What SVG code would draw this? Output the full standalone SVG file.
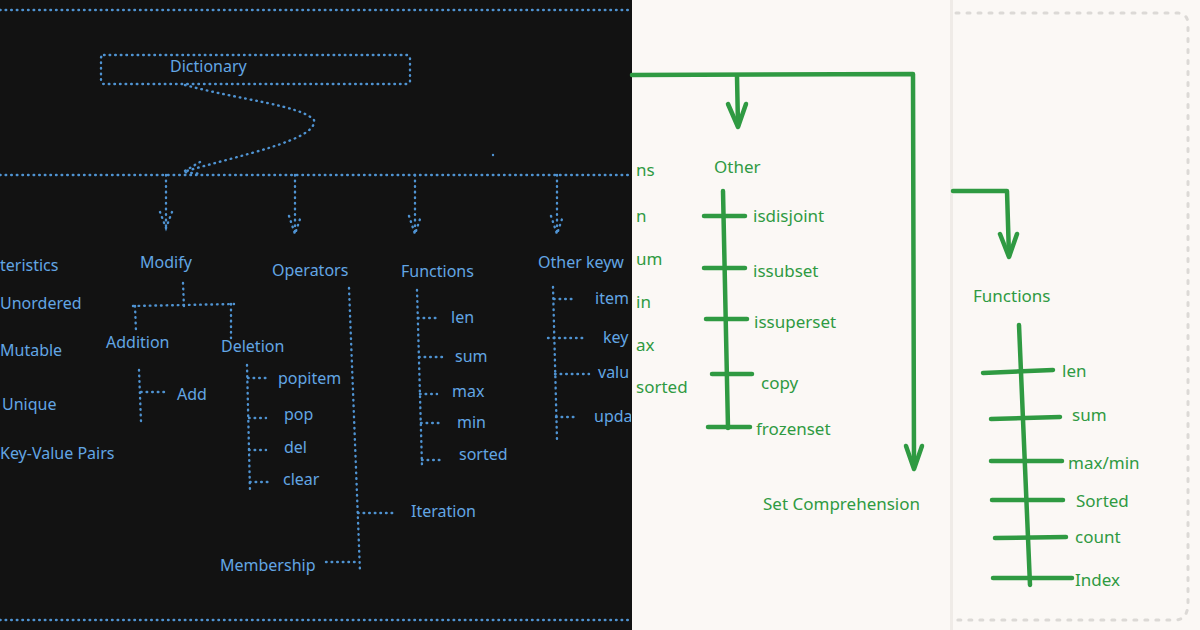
<svg xmlns="http://www.w3.org/2000/svg" width="1200" height="630" viewBox="0 0 1200 630">
<defs>
<style>
.dk{fill:#121212}
.lt{fill:#fbf8f5}
.dot{fill:none;stroke:#4f93d2;stroke-width:2.4;stroke-dasharray:0.6 5;stroke-linecap:round}
.bt{fill:#62a6e4;font-family:"Noto Sans","Liberation Sans",sans-serif;font-size:16px}
.gl{fill:none;stroke:#2f9a42;stroke-width:4.5;stroke-linecap:round;stroke-linejoin:round}
.gt{fill:#2f9a42;font-family:"Noto Sans","Liberation Sans",sans-serif;font-size:17px}
.gray{fill:none;stroke:#dcd9d6;stroke-width:3;stroke-dasharray:3 8;stroke-linecap:round}
</style>
<clipPath id="leftclip"><rect x="0" y="0" width="631" height="630"/></clipPath>
</defs>
<rect x="0" y="0" width="632" height="630" class="dk"/>
<rect x="632" y="0" width="318" height="630" class="lt"/>
<rect x="950" y="0" width="3" height="630" fill="#efebe7"/>
<rect x="953" y="0" width="247" height="630" class="lt"/>

<g id="connectors">
<g clip-path="url(#leftclip)">
<line x1="0" y1="10" x2="630" y2="10" class="dot"/>
<line x1="0" y1="175" x2="630" y2="175" class="dot"/>
<line x1="0" y1="620" x2="630" y2="620" class="dot"/>
<path d="M185 85 C 240 100, 300 105, 314 120 C 318 140, 240 155, 183 172" class="dot"/>
<path d="M200 162 L183 172 L202 174" class="dot"/>
<circle cx="493" cy="155" r="1.2" fill="#4f93d2"/>
<line x1="166" y1="175" x2="166" y2="228" class="dot"/>
<path d="M160 212 L166 228 L172 212" class="dot"/>
<line x1="295" y1="175" x2="295" y2="234" class="dot"/>
<path d="M289 216 L295 234 L301 216" class="dot"/>
<line x1="415" y1="175" x2="415" y2="234" class="dot"/>
<path d="M409 216 L415 234 L421 216" class="dot"/>
<line x1="557" y1="175" x2="557" y2="234" class="dot"/>
<path d="M551 216 L557 234 L563 216" class="dot"/>
<line x1="183" y1="283" x2="184" y2="308" class="dot"/>
<line x1="133" y1="306" x2="234" y2="304" class="dot"/>
<line x1="135" y1="306" x2="136" y2="332" class="dot"/>
<line x1="231" y1="304" x2="231" y2="338" class="dot"/>
<line x1="139" y1="370" x2="141" y2="422" class="dot"/>
<line x1="141" y1="392" x2="166" y2="392" class="dot"/>
<line x1="247" y1="365" x2="250" y2="492" class="dot"/>
<line x1="248" y1="378" x2="268" y2="378" class="dot"/>
<line x1="249" y1="418" x2="266" y2="418" class="dot"/>
<line x1="249" y1="450" x2="266" y2="450" class="dot"/>
<line x1="250" y1="482" x2="268" y2="482" class="dot"/>
<line x1="349" y1="288" x2="360" y2="572" class="dot"/>
<line x1="358" y1="513" x2="395" y2="513" class="dot"/>
<line x1="326" y1="562" x2="358" y2="562" class="dot"/>
<line x1="417" y1="290" x2="422" y2="466" class="dot"/>
<line x1="418" y1="318" x2="437" y2="318" class="dot"/>
<line x1="419" y1="357" x2="445" y2="357" class="dot"/>
<line x1="420" y1="394" x2="437" y2="394" class="dot"/>
<line x1="421" y1="423" x2="440" y2="423" class="dot"/>
<line x1="422" y1="460" x2="442" y2="460" class="dot"/>
<line x1="553" y1="287" x2="557" y2="440" class="dot"/>
<line x1="554" y1="299" x2="576" y2="299" class="dot"/>
<line x1="548" y1="338" x2="585" y2="338" class="dot"/>
<line x1="555" y1="374" x2="589" y2="374" class="dot"/>
<line x1="556" y1="417" x2="577" y2="417" class="dot"/>
</g>
<path d="M632 75 L913 74 L914 465" class="gl"/>
<path d="M906 446 L914 469 L922 446" class="gl"/>
<path d="M737 76 L738 126" class="gl"/>
<path d="M728 104 L738 127 L746 104" class="gl"/>
<path d="M723 191 L728 428" class="gl"/>
<line x1="704" y1="216" x2="745" y2="216" class="gl"/>
<line x1="704" y1="268" x2="745" y2="268" class="gl"/>
<line x1="706" y1="319" x2="747" y2="319" class="gl"/>
<line x1="712" y1="374" x2="752" y2="374" class="gl"/>
<line x1="708" y1="427" x2="750" y2="427" class="gl"/>
<path d="M953 191 L1007 191 L1009 256" class="gl"/>
<path d="M1000 234 L1009 257 L1017 234" class="gl"/>
<path d="M1019 325 L1030 585" class="gl"/>
<line x1="983" y1="373" x2="1053" y2="370" class="gl"/>
<line x1="991" y1="419" x2="1060" y2="417" class="gl"/>
<line x1="991" y1="461" x2="1062" y2="461" class="gl"/>
<line x1="992" y1="500" x2="1063" y2="500" class="gl"/>
<line x1="995" y1="538" x2="1066" y2="537" class="gl"/>
<line x1="993" y1="578" x2="1072" y2="578" class="gl"/>
<path d="M956 13 L1178 13 Q1188 14 1188 24 L1188 605 Q1187 620 1175 620 L956 620" class="gray"/>
</g>

<g clip-path="url(#leftclip)">
<g id="dictionary">
<rect x="101" y="55" width="309" height="29" rx="3" class="dot"/>
<text x="170" y="72" class="bt">Dictionary</text>
</g>
<g id="characteristics">
<text x="0" y="271" class="bt">teristics</text>
<text x="0" y="309" class="bt">Unordered</text>
<text x="0" y="356" class="bt">Mutable</text>
<text x="2" y="410" class="bt">Unique</text>
<text x="0" y="459" class="bt">Key-Value Pairs</text>
</g>
<g id="modify">
<text x="140" y="268" class="bt">Modify</text>
<text x="106" y="348" class="bt">Addition</text>
<text x="221" y="352" class="bt">Deletion</text>
<text x="177" y="400" class="bt">Add</text>
<text x="278" y="384" class="bt">popitem</text>
<text x="284" y="420" class="bt">pop</text>
<text x="284" y="453" class="bt">del</text>
<text x="283" y="485" class="bt">clear</text>
</g>
<g id="operators">
<text x="272" y="276" class="bt">Operators</text>
<text x="411" y="517" class="bt">Iteration</text>
<text x="220" y="571" class="bt" font-size="15">Membership</text>
</g>
<g id="functions-dict">
<text x="401" y="277" class="bt">Functions</text>
<text x="451" y="323" class="bt">len</text>
<text x="455" y="362" class="bt">sum</text>
<text x="452" y="397" class="bt">max</text>
<text x="457" y="428" class="bt">min</text>
<text x="459" y="460" class="bt">sorted</text>
</g>
<g id="other-keywords">
<text x="538" y="268" class="bt">Other keyw</text>
<text x="595" y="304" class="bt">item</text>
<text x="603" y="343" class="bt">key</text>
<text x="598" y="378" class="bt">valu</text>
<text x="594" y="422" class="bt">upda</text>
</g>
</g>
<g id="set-functions-partial">
<text x="636" y="176" class="gt">ns</text>
<text x="636" y="222" class="gt">n</text>
<text x="636" y="265" class="gt">um</text>
<text x="636" y="308" class="gt">in</text>
<text x="636" y="351" class="gt">ax</text>
<text x="636" y="393" class="gt">sorted</text>
</g>
<g id="set-other">
<text x="714" y="173" class="gt">Other</text>
<text x="753" y="222" class="gt">isdisjoint</text>
<text x="753" y="277" class="gt">issubset</text>
<text x="754" y="328" class="gt">issuperset</text>
<text x="761" y="389" class="gt">copy</text>
<text x="756" y="435" class="gt">frozenset</text>
</g>
<g id="set-comprehension">
<text x="763" y="510" class="gt">Set Comprehension</text>
</g>
<g id="list-functions">
<text x="973" y="302" class="gt">Functions</text>
<text x="1062" y="377" class="gt">len</text>
<text x="1072" y="421" class="gt" font-size="15">sum</text>
<text x="1068" y="469" class="gt" font-size="15">max/min</text>
<text x="1076" y="507" class="gt">Sorted</text>
<text x="1075" y="543" class="gt">count</text>
<text x="1075" y="586" class="gt">Index</text>
</g>
</svg>
